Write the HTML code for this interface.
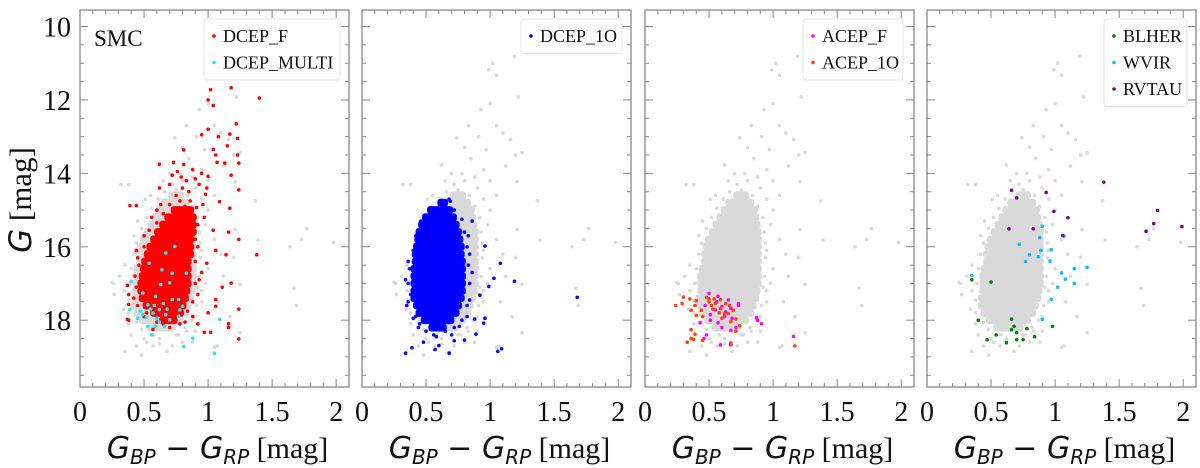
<!DOCTYPE html>
<html><head><meta charset="utf-8"><style>
html,body{margin:0;padding:0;background:#fff;}
svg{display:block;font-family:"Liberation Serif",serif;}
svg text{font-family:"Liberation Serif",serif;}
</style></head><body>
<svg id="chart" width="1200" height="468" viewBox="0 0 1200 468" xmlns="http://www.w3.org/2000/svg" font-family="Liberation Serif, serif"></svg>
<script>
// ---- data (x = BP-RP colour, G = magnitude) ----
const xTicks = [0, 0.5, 1, 1.5, 2];
const xTickLabels = ["0", "0.5", "1", "1.5", "2"];
const yTicks = [10, 12, 14, 16, 18];
const yTickLabels = ["10", "12", "14", "16", "18"];

// dense cores: [G, xmin, xmax]
const grayCore = [[14.6,0.7,0.8],[14.8,0.64,0.84],[15.0,0.6,0.87],[15.2,0.57,0.88],[15.4,0.54,0.89],[15.6,0.51,0.9],[15.8,0.48,0.9],[16.0,0.46,0.9],[16.2,0.45,0.9],[16.4,0.45,0.9],[16.6,0.43,0.9],[16.8,0.42,0.9],[17.0,0.42,0.9],[17.2,0.42,0.89],[17.4,0.41,0.88],[17.6,0.41,0.86],[17.8,0.43,0.84],[18.0,0.47,0.8],[18.2,0.53,0.74]];
const redCore = [[15.0,0.72,0.88],[15.2,0.67,0.9],[15.4,0.63,0.9],[15.6,0.59,0.9],[15.8,0.56,0.88],[16.0,0.53,0.88],[16.2,0.51,0.88],[16.4,0.49,0.86],[16.6,0.48,0.86],[16.8,0.47,0.86],[17.0,0.46,0.86],[17.2,0.46,0.85],[17.4,0.47,0.84],[17.6,0.5,0.82],[17.8,0.56,0.8],[18.0,0.63,0.75]];
const blueCore = [[14.8,0.6,0.66],[15.0,0.52,0.7],[15.2,0.48,0.73],[15.4,0.45,0.75],[15.6,0.43,0.77],[15.8,0.42,0.78],[16.0,0.41,0.79],[16.2,0.4,0.79],[16.4,0.4,0.8],[16.6,0.39,0.8],[16.8,0.39,0.8],[17.0,0.39,0.8],[17.2,0.39,0.8],[17.4,0.39,0.79],[17.6,0.41,0.77],[17.8,0.43,0.75],[18.0,0.47,0.71],[18.2,0.53,0.65]];

// scattered points: [x, G]
const grayPts = [[1.19,10.81],[1.02,11.0],[0.99,11.18],[1.05,11.33],[1.22,11.92],[1.0,12.1],[0.93,12.26],[0.83,12.7],[1.05,12.7],[0.91,13.0],[0.74,13.03],[1.16,13.08],[0.97,13.35],[1.25,13.44],[0.62,13.77],[1.2,13.5],[1.12,13.8],[0.32,14.31],[0.38,14.31],[0.51,14.71],[1.21,14.23],[1.39,15.82],[1.21,15.53],[1.67,17.13],[0.26,17.0],[0.27,17.3],[0.25,16.97],[0.31,16.8],[0.35,18.85],[1.05,18.74],[1.07,18.7],[1.25,18.34],[1.17,17.9],[0.44,18.7],[0.57,18.7],[0.68,18.85],[1.25,17.02],[1.2,16.29],[1.1,16.2],[1.98,15.88],[1.64,16.0],[1.73,15.8],[1.77,15.5],[1.69,17.6],[1.37,14.75],[0.85,13.6],[0.95,13.9],[0.78,14.0],[0.72,14.3],[0.9,14.4],[1.0,14.2],[1.05,14.6],[0.95,14.7],[1.0,15.0],[0.98,15.4],[1.05,15.8],[0.95,16.1],[1.0,16.6],[0.98,17.0],[0.95,17.5],[0.9,17.9],[0.35,16.5],[0.35,17.2],[0.34,17.7],[0.38,18.1],[0.4,18.4],[0.5,18.5],[0.62,18.5],[0.75,18.4],[0.82,18.2],[0.9,18.3],[0.72,18.7],[0.48,18.95],[0.88,18.6],[0.42,15.7],[0.45,15.3],[0.55,14.6],[0.65,14.2],[0.8,13.3],[1.1,12.9],[0.95,17.2],[1.08,17.5],[1.12,16.8],
[0.66,14.5],[0.84,14.6],[0.88,14.9],[0.92,15.2],[0.93,15.6],[0.94,15.9],[0.94,16.3],[0.93,16.8],[0.92,17.1],[0.91,17.6],[0.87,18.0],[0.83,18.3],[0.77,18.4],[0.58,18.4],[0.48,18.25],[0.44,18.05],[0.38,17.8],[0.38,17.45],[0.39,17.0],[0.4,16.6],[0.42,16.2],[0.44,15.9],[0.48,15.5],[0.52,15.2],[0.56,14.95],[0.61,14.7],[0.75,14.45],[0.8,14.2],[0.7,14.0],[0.88,14.1],[0.62,18.65],[0.52,18.6],[0.8,18.6]];
const redPts = [[1.02,11.72],[1.18,11.67],[1.4,11.95],[1.0,12.0],[1.04,12.15],[1.22,12.65],[1.0,12.8],[0.95,12.95],[1.08,13.0],[1.17,12.93],[1.23,13.05],[1.15,13.25],[1.04,13.35],[0.81,13.36],[1.06,13.5],[1.23,13.5],[1.24,13.72],[1.13,13.72],[1.07,13.7],[1.18,14.05],[0.62,13.75],[0.73,13.7],[0.81,13.76],[1.24,14.45],[1.09,14.77],[1.17,14.95],[0.39,14.88],[0.44,14.88],[0.63,14.85],[0.62,14.4],[0.93,14.3],[1.0,14.08],[0.99,14.4],[0.79,14.1],[1.16,15.6],[1.24,15.8],[1.38,16.22],[1.14,16.22],[0.37,17.05],[0.38,17.3],[0.38,17.57],[0.37,17.98],[0.38,18.0],[1.24,17.7],[1.16,18.1],[1.16,18.2],[1.24,18.51],[0.97,18.33],[1.02,18.33],[0.44,16.1],[0.45,16.3],[0.54,16.0],[0.56,15.2],[1.06,17.44],[1.06,17.62],[1.11,17.1],[1.18,16.99],[0.82,18.05],[0.92,18.1],[0.7,18.2],[0.57,18.25],[1.04,15.55],[1.06,16.1],[0.99,16.45],[0.93,16.9],[0.97,15.2],[0.86,14.75],[0.91,14.93],[0.98,14.57],[0.75,14.6],[0.85,14.5],[0.7,14.3],[0.9,15.8],[0.95,16.7],[0.92,17.3],[0.42,17.4],[0.43,16.8],[0.5,15.7],[0.6,15.0],[0.88,17.9],[0.65,18.1],[0.5,17.9],[1.0,17.8],[0.95,14.0],[0.88,13.9],
[0.7,14.85],[0.78,14.75],[0.82,14.9],[0.92,15.4],[0.92,16.0],[0.9,16.4],[0.9,17.0],[0.88,17.5],[0.84,17.75],[0.78,18.1],[0.6,18.05],[0.52,17.8],[0.45,17.6],[0.44,17.1],[0.46,16.5],[0.5,16.0],[0.54,15.55],[0.6,15.35],[0.65,15.1],[0.8,14.4],[0.72,14.05],[0.76,13.95],[0.83,14.2],[0.9,14.15],[0.96,14.85]];
const cyanPts = [[0.4,16.94],[0.39,17.71],[0.49,17.85],[0.53,17.58],[0.59,17.35],[0.63,17.03],[0.64,16.63],[0.72,16.72],[0.67,16.17],[0.74,15.99],[0.54,16.45],[0.62,17.71],[0.67,17.85],[0.72,17.44],[0.77,17.89],[0.8,17.62],[0.83,16.72],[0.59,18.17],[0.66,18.17],[0.56,18.4],[0.53,18.17],[1.09,17.98],[0.88,18.49],[0.81,18.72],[1.05,18.9],[0.49,17.26],[0.7,16.98],[0.77,17.44],[0.57,17.81],[0.7,17.99],[0.78,17.72],[0.45,17.95],[0.6,17.95],[0.55,17.7],[0.65,17.55],[0.47,17.75],[0.52,17.92],[0.58,17.6],[0.62,18.05],[0.68,17.7]];
const bluePts = [[1.68,17.38],[1.06,18.85],[1.09,18.78],[0.34,18.9],[0.39,18.75],[0.68,18.9],[0.57,18.8],[0.6,18.69],[0.72,18.56],[0.8,18.54],[0.89,18.38],[0.96,17.95],[0.95,18.08],[1.19,16.94],[1.08,16.45],[1.03,16.86],[0.99,17.08],[0.96,15.98],[0.68,14.7],[0.69,14.76],[0.54,15.2],[0.53,15.7],[0.44,16.15],[0.4,16.9],[0.38,17.3],[0.4,17.95],[0.45,18.1],[0.86,15.3],[0.92,17.32],[0.84,17.45],[0.88,17.97],[0.76,18.17],[0.65,18.3],[0.5,18.3],[0.34,16.9],[0.35,17.6],[0.36,16.4],[0.84,16.2],[0.86,16.7],[0.83,15.7],[0.58,18.45],[0.48,18.6],[0.7,18.4],[0.82,17.9],
[0.55,14.95],[0.62,14.85],[0.72,15.0],[0.78,15.25],[0.8,15.6],[0.82,16.0],[0.83,16.5],[0.84,17.0],[0.82,17.6],[0.78,18.0],[0.72,18.2],[0.56,18.4],[0.44,18.2],[0.42,17.9],[0.36,17.5],[0.36,17.0],[0.37,16.6],[0.4,16.1],[0.42,15.7],[0.46,15.3]];
const acepFPts = [[1.16,18.44],[0.91,18.1],[0.88,18.0],[0.87,17.93],[0.73,17.55],[0.73,17.6],[0.65,17.45],[0.57,17.35],[0.5,17.27],[0.59,18.67],[0.67,18.67],[0.71,18.2],[0.67,18.28],[0.6,18.2],[0.48,18.4],[0.46,18.5],[0.43,18.07],[0.47,17.6],[0.51,17.85],[0.55,17.72],[0.62,17.9],[0.68,17.95],[0.6,17.63],[0.56,17.5],[0.63,17.77],[0.67,17.68],[0.51,18.0],[0.57,18.07]];
const acep1OPts = [[0.24,17.6],[0.3,17.37],[0.29,17.55],[0.35,17.42],[0.39,17.6],[0.36,17.73],[0.4,17.87],[0.4,17.47],[0.44,17.73],[0.45,17.9],[0.48,17.38],[0.5,17.5],[0.52,17.6],[0.55,17.55],[0.59,17.68],[0.63,17.55],[0.65,17.82],[0.69,17.73],[0.67,18.04],[0.71,17.97],[0.74,18.15],[0.71,18.3],[0.67,18.62],[0.36,18.26],[0.39,18.38],[0.36,18.5],[0.33,18.6],[0.38,18.52],[0.45,18.55],[1.17,18.7],[0.5,17.42],[0.54,17.42],[0.58,17.8],[0.62,17.82],[0.59,17.44],[0.53,17.7],[0.6,17.95],[0.66,17.6]];
const blherPts = [[0.35,16.9],[0.5,16.96],[0.4,18.0],[0.66,17.97],[0.78,18.23],[0.98,18.17],[0.68,18.17],[0.66,18.26],[0.7,18.34],[0.54,18.4],[0.84,18.45],[0.47,18.53],[0.7,18.53],[0.75,18.53],[0.62,18.61]];
const wvirPts = [[0.9,15.44],[0.88,15.75],[0.72,15.93],[0.89,16.1],[0.97,16.08],[0.8,16.22],[0.87,16.27],[0.77,16.4],[0.96,16.39],[1.07,15.71],[1.25,16.56],[1.15,16.6],[1.05,16.71],[1.08,16.88],[1.15,17.0],[1.02,17.1],[0.97,17.43],[0.9,17.98],[0.35,16.78]];
const rvtauPts = [[1.38,14.24],[0.66,14.46],[0.7,14.67],[0.93,14.52],[0.99,15.04],[1.1,15.21],[0.64,15.51],[0.83,15.51],[1.06,15.69],[1.8,15.01],[1.77,15.37],[1.71,15.58],[1.99,15.45]];

// ---- layout ----
const svg = document.getElementById('chart');
const NS = 'http://www.w3.org/2000/svg';
const SERIF = 'Liberation Serif, serif';
const SANS = 'DejaVu Sans, sans-serif';
const panelLeft = [80, 362, 645, 927];
const PW = 269, PT = 10, PB = 387;
const XMIN = 0, XMAX = 2.1, GMIN = 9.55, GMAX = 19.82;
function mk(tag, attrs, parent) {
  const e = document.createElementNS(NS, tag);
  for (const k in attrs) e.setAttribute(k, attrs[k]);
  (parent || svg).appendChild(e);
  return e;
}
function xs(p, v) { return panelLeft[p] + (v - XMIN) / (XMAX - XMIN) * PW; }
function ys(g) { return PT + (g - GMIN) / (GMAX - GMIN) * (PB - PT); }
const rowH = (ys(10.2) - ys(10)) + 0.6;

function drawCore(p, arr, color, name) {
  const g = mk('g', {});
  
  
  arr.forEach(r => {
    const x0 = xs(p, r[1]), x1 = xs(p, r[2]);
    const e = mk('rect', {x: x0 - 1.5, y: ys(r[0]) - rowH / 2, width: x1 - x0 + 3, height: rowH, rx: 3, fill: color}, g);
    
    
  });
}
function drawPts(p, arr, color, name, r) {
  const g = mk('g', {});
  
  
  arr.forEach(d => {
    const e = mk('circle', {cx: xs(p, d[0]), cy: ys(d[1]), r: r || 1.8, fill: color}, g);
    
    
  });
}
function legend(p, x0, y0, w, entries) {
  const g = mk('g', {});
  
  
  mk('rect', {x: x0, y: y0, width: w, height: 8 + entries.length * 26.5, rx: 3, fill: '#fff', stroke: '#e4e4e4', 'stroke-width': 1}, g);
  entries.forEach((en, i) => {
    const cy = y0 + 17 + i * 26.5;
    const c = mk('circle', {cx: x0 + 10, cy: cy, r: 1.8, fill: en[1]}, g);
    
    
    const t = mk('text', {x: x0 + 19, y: cy + 6, 'font-size': 18, 'font-family': SERIF, fill: '#111'}, g);
    t.textContent = en[0];
    
    
  });
}
function tspan(parent, txt, attrs) {
  const s = mk('tspan', attrs, parent);
  s.textContent = txt;
  return s;
}
const GRAY = '#d9d9d9';
for (let p = 0; p < 4; p++) {
  const L = panelLeft[p];
  drawCore(p, grayCore, GRAY, 'all-cepheids-core');
  drawPts(p, grayPts, GRAY, 'all-cepheids');
  if (p === 0) {
    drawCore(p, redCore, '#ff0000', 'dcep-f-core');
    drawPts(p, redPts, '#ff0000', 'dcep-f');
    drawPts(p, cyanPts, '#22e6f0', 'dcep-multi');
  }
  if (p === 1) {
    drawCore(p, blueCore, '#0000ff', 'dcep-1o-core');
    drawPts(p, bluePts, '#0000ff', 'dcep-1o');
  }
  if (p === 2) {
    drawPts(p, acepFPts, '#ff00ff', 'acep-f');
    drawPts(p, acep1OPts, '#ff4500', 'acep-1o');
  }
  if (p === 3) {
    drawPts(p, blherPts, '#008000', 'blher');
    drawPts(p, wvirPts, '#00bfff', 'wvir');
    drawPts(p, rvtauPts, '#800080', 'rvtau');
  }
  const fr = mk('rect', {x: L, y: PT, width: PW, height: PB - PT, fill: 'none', stroke: '#888', 'stroke-width': 1.3});
  
  
  for (let v = 0.1; v < 2.1; v += 0.1) {
    const vv = Math.round(v * 10) / 10;
    const major = Math.abs(vv * 2 - Math.round(vv * 2)) < 1e-6;
    const len = major ? 8 : 4;
    const x = xs(p, vv);
    mk('line', {x1: x, y1: PB, x2: x, y2: PB - len, stroke: '#888', 'stroke-width': 1});
    mk('line', {x1: x, y1: PT, x2: x, y2: PT + len, stroke: '#888', 'stroke-width': 1});
  }
  xTicks.forEach((v, i) => {
    const t = mk('text', {x: xs(p, v), y: 421, 'font-size': 28, 'font-family': SERIF, 'text-anchor': 'middle', fill: '#111'});
    t.textContent = xTickLabels[i];
    
    
  });
  for (let g = 10; g <= 19.5; g += 0.5) {
    const major = g % 2 === 0;
    const len = major ? 8 : 4;
    const y = ys(g);
    mk('line', {x1: L, y1: y, x2: L + len, y2: y, stroke: '#888', 'stroke-width': 1});
    mk('line', {x1: L + PW, y1: y, x2: L + PW - len, y2: y, stroke: '#888', 'stroke-width': 1});
  }
  const xt = mk('text', {x: L + PW / 2 + 3, y: 458, 'font-size': 30, 'font-family': SERIF, 'text-anchor': 'middle', fill: '#111'});
  
  
  tspan(xt, 'G', {'font-family': SANS, 'font-style': 'italic'});
  tspan(xt, 'BP', {'font-family': SANS, 'font-style': 'italic', 'font-size': 20, dy: 6});
  tspan(xt, ' − ', {'font-family': SANS, dy: -6});
  tspan(xt, 'G', {'font-family': SANS, 'font-style': 'italic'});
  tspan(xt, 'RP', {'font-family': SANS, 'font-style': 'italic', 'font-size': 20, dy: 6});
  tspan(xt, ' [mag]', {'font-family': SERIF, dy: -6});
}
yTicks.forEach((v, i) => {
  const t = mk('text', {x: 71, y: ys(v) + 10, 'font-size': 28, 'font-family': SERIF, 'text-anchor': 'end', fill: '#111'});
  t.textContent = yTickLabels[i];
  
  
});
const yt = mk('text', {x: 0, y: 0, 'font-size': 31, 'font-family': SERIF, 'text-anchor': 'middle', fill: '#111', transform: 'translate(31,200) rotate(-90)'});


tspan(yt, 'G', {'font-family': SANS, 'font-style': 'italic'});
tspan(yt, ' [mag]', {'font-family': SERIF});
const smc = mk('text', {x: 94, y: 46, 'font-size': 23, 'font-family': SERIF, fill: '#111'});
smc.textContent = 'SMC';



legend(0, 204, 19, 136, [['DCEP_F', '#ff0000'], ['DCEP_MULTI', '#22e6f0']]);
legend(1, 521, 19, 101, [['DCEP_1O', '#0000ff']]);
legend(2, 803, 19, 100, [['ACEP_F', '#ff00ff'], ['ACEP_1O', '#ff4500']]);
legend(3, 1104, 19, 83, [['BLHER', '#008000'], ['WVIR', '#00bfff'], ['RVTAU', '#800080']]);
</script>
</body></html>
